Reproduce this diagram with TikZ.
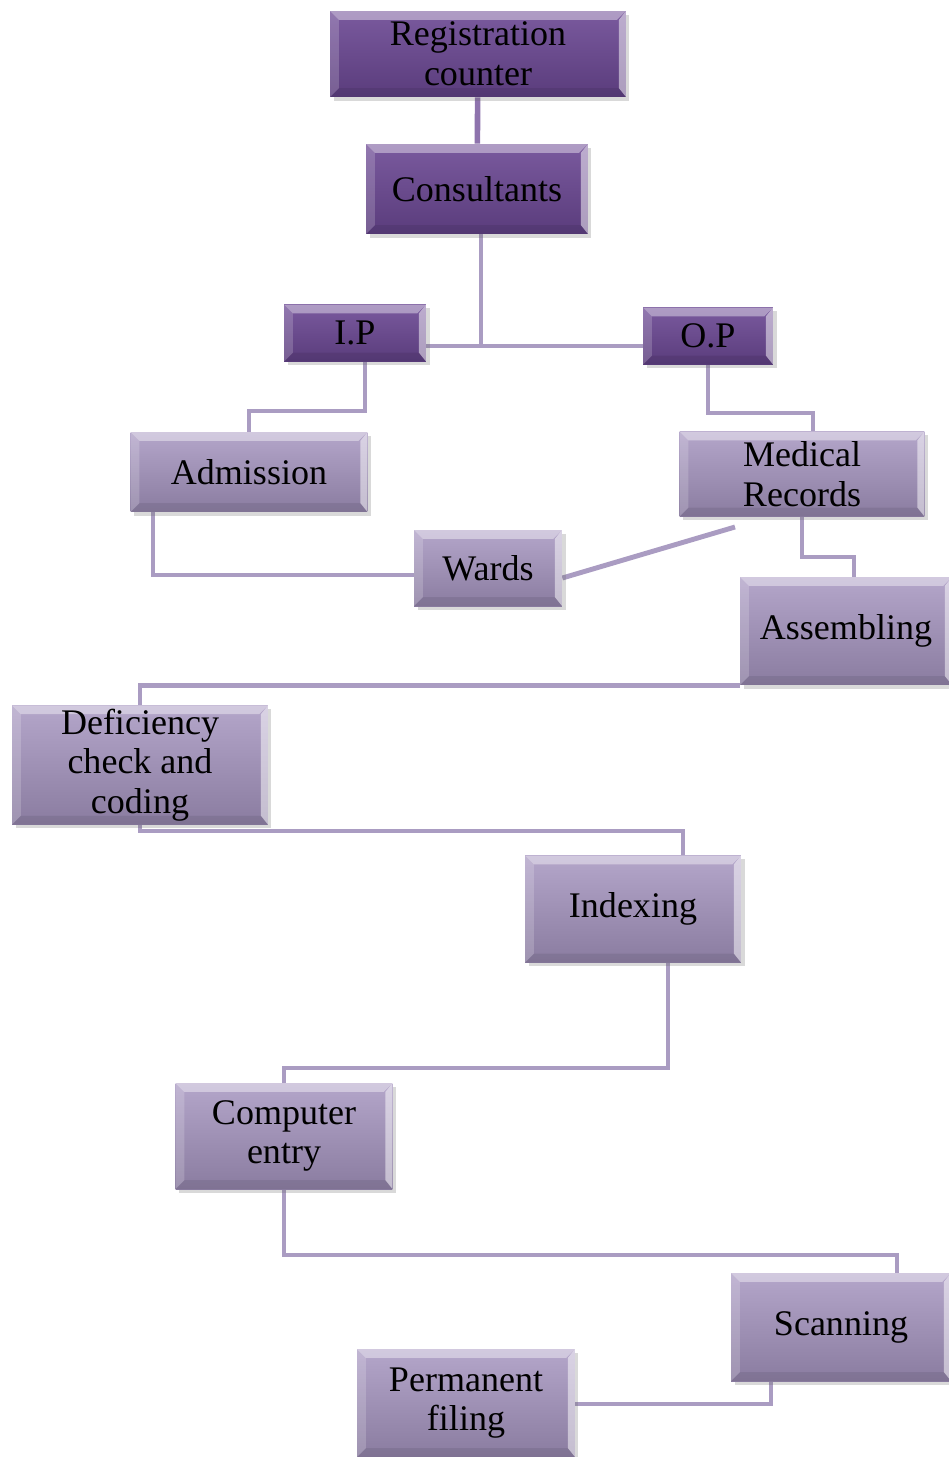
\documentclass[tikz,border=0pt]{standalone}
\usepackage{fontspec}
\setmainfont{Liberation Serif}
\usetikzlibrary{backgrounds,shadows}
\definecolor{plumtop}{HTML}{7A5A9E}
\definecolor{plumbot}{HTML}{5A3C7C}
\definecolor{lilactop}{HTML}{B4A6CA}
\definecolor{lilacbot}{HTML}{8A7CA0}
\definecolor{linkcol}{HTML}{AA9CC2}
\tikzstyle{bevel}=[path picture={
    \fill[white,opacity=0.4] (path picture bounding box.north west) -- (path picture bounding box.north east) -- ([shift={(-5pt,-5pt)}]path picture bounding box.north east) -- ([shift={(5pt,-5pt)}]path picture bounding box.north west) -- cycle;
    \fill[white,opacity=0.18] (path picture bounding box.north west) -- ([shift={(5pt,-5pt)}]path picture bounding box.north west) -- ([shift={(5pt,5pt)}]path picture bounding box.south west) -- (path picture bounding box.south west) -- cycle;
    \fill[white,opacity=0.5] (path picture bounding box.north east) -- ([shift={(-4pt,-5pt)}]path picture bounding box.north east) -- ([shift={(-4pt,5pt)}]path picture bounding box.south east) -- (path picture bounding box.south east) -- cycle;
    \fill[black,opacity=0.08] (path picture bounding box.south west) -- ([shift={(5pt,5pt)}]path picture bounding box.south west) -- ([shift={(-4pt,5pt)}]path picture bounding box.south east) -- (path picture bounding box.south east) -- cycle;
  }]
\tikzstyle{box}=[rectangle, bevel, inner sep=2pt, align=center, draw=none, font=\fontsize{20.5}{22.5}\selectfont,
  drop shadow={shadow xshift=2pt, shadow yshift=-2pt, opacity=0.25, fill=black!60}]
\tikzstyle{darkbox}=[box, top color=plumtop, bottom color=plumbot]
\tikzstyle{lightbox}=[box, top color=lilactop, bottom color=lilacbot]
\tikzstyle{link}=[draw=linkcol, line width=2.8pt]
\tikzstyle{toplink}=[draw=plumtop!85, line width=3.2pt]

\begin{document}
\begin{tikzpicture}[x=0.02cm, y=-0.02cm]
	\useasboundingbox (0,0) rectangle (948,1457);

	\node[darkbox, minimum width=5.92cm, minimum height=1.72cm](reg) at (478,54){Registration\\counter};
	\node[darkbox, minimum width=4.44cm, minimum height=1.80cm](consult) at (477,189){Consultants};
	\node[darkbox, minimum width=2.84cm, minimum height=1.14cm](ip) at (355,333){I.P};
	\node[darkbox, minimum width=2.60cm, minimum height=1.14cm](op) at (708,336){O.P};
	\node[lightbox, minimum width=4.74cm, minimum height=1.60cm](admission) at (249,472){Admission};
	\node[lightbox, minimum width=4.90cm, minimum height=1.70cm](medrec) at (802,474){Medical\\Records};
	\node[lightbox, minimum width=2.96cm, minimum height=1.52cm](wards) at (488,568){Wards};
	\node[lightbox, minimum width=4.24cm, minimum height=2.16cm](assembling) at (846,631){Assembling};
	\node[lightbox, minimum width=5.12cm, minimum height=2.38cm](deficiency) at (140,765){Deficiency\\check and\\coding};
	\node[lightbox, minimum width=4.32cm, minimum height=2.14cm](indexing) at (633,909){Indexing};
	\node[lightbox, minimum width=4.34cm, minimum height=2.12cm](entry) at (284,1136){Computer\\entry};
	\node[lightbox, minimum width=4.40cm, minimum height=2.16cm](scanning) at (841,1327){Scanning};
	\node[lightbox, minimum width=4.36cm, minimum height=2.16cm](filing) at (466,1403){Permanent\\filing};

	\coordinate (split) at (481,346);
	\coordinate (b1) at (365,411);
	\coordinate (b2) at (813,413);
	\coordinate (b3) at (153,575);
	\coordinate (b4) at (735,527);
	\coordinate (b5) at (854,557);
	\coordinate (b7) at (683,831);
	\coordinate (b8) at (668,1068);
	\coordinate (b9) at (897,1255);
	\coordinate (b10) at (771,1404);

	\begin{scope}[on background layer]
	\draw[toplink] (reg) -- (consult);
	\draw[link] (consult.south -| split) -- (split) -- (split -| op.west);
	\draw[link] (ip.east |- split) -- (split);
	\draw[link] (ip.south -| b1) |- (admission.north |- b1) -- (admission.north);
	\draw[link] (op.south) |- (b2) -- (b2 |- medrec.north);
	\draw[link] (admission.south -| b3) -- (b3) -- (b3 -| wards.west);
	\draw[link] (wards.east) ++(0,10) -- (b4);
	\draw[link] (medrec.south) |- (b5) -- (b5 |- assembling.north);
	\draw[link] (assembling.south west) -| (deficiency.north);
	\draw[link] (deficiency.south) |- (b7) -- (b7 |- indexing.north);
	\draw[link] (indexing.south -| b8) -- (b8) -| (entry.north);
	\draw[link] (entry.south) |- (b9) -- (b9 |- scanning.north);
	\draw[link] (scanning.south -| b10) -- (b10) -- (b10 -| filing.east);
	\end{scope}

\end{tikzpicture}
\end{document}
